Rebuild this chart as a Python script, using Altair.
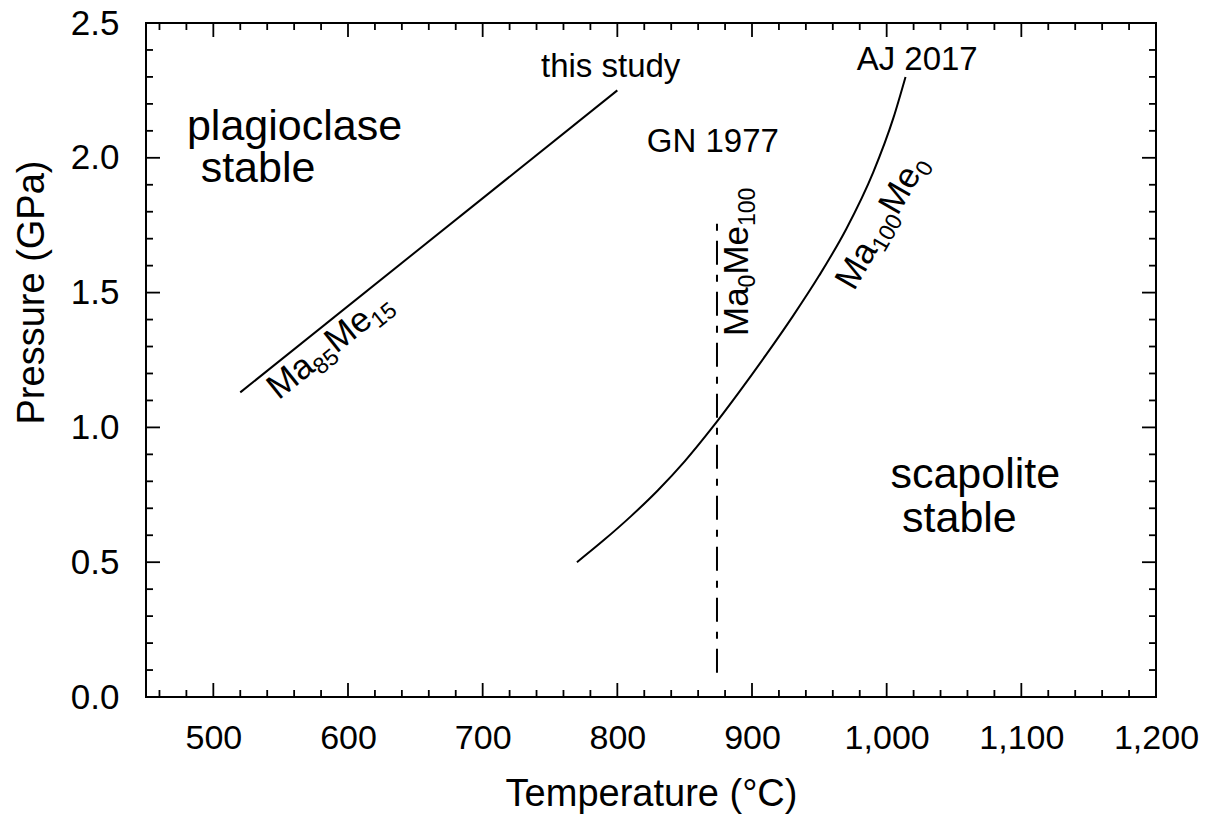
import altair as alt
import pandas as pd

FONT = "Liberation Sans"

# Plot area size in pixels
W, H = 1010, 674

# Reaction boundaries (temperature in °C, pressure in GPa)
study_T = [520, 800]
study_P = [1.13, 2.25]

aj_T = [770, 790, 810, 830, 850, 870, 890, 910, 930, 950, 970, 990, 1005, 1014]
aj_P = [0.50, 0.582, 0.670, 0.766, 0.874, 0.996, 1.128, 1.266, 1.410, 1.564, 1.736, 1.946, 2.148, 2.30]

gn_T = [874, 874]
gn_P = [0.09, 1.78]

# Axis ticks
x_labels = [500, 600, 700, 800, 900, 1000, 1100, 1200]
x_major = [500, 600, 700, 800, 900, 1000, 1100]
x_minor = [t for t in range(460, 1200, 20) if t % 100]
y_labels = [0.0, 0.5, 1.0, 1.5, 2.0, 2.5]
y_major = [0.5, 1.0, 1.5, 2.0]
y_minor = [i / 10 for i in range(1, 25) if i % 5]

# Plain annotations: text, T, P, font size
notes_text = ["plagioclase", "stable", "scapolite", "stable", "this study", "GN 1977", "AJ 2017"]
notes_T = [480.4, 490.6, 1002.8, 1011.4, 743.3, 821.9, 977.7]
notes_P = [2.066, 1.91, 0.774, 0.613, 2.301, 2.023, 2.326]
notes_size = [43, 43, 43, 43, 33, 33, 33]

# Composition labels with subscripts: pieces, anchor, rotation
comp_labels = [
    (["Ma", "85", "Me", "15"], 548.3, 1.10, 321.3),
    (["Ma", "100", "Me", "0"], 975.7, 1.503, 300),
    (["Ma", "0", "Me", "100"], 897.0, 1.339, 270),
]
BIG, SMALL = 35, 23
CHAR_W = {"M": 0.833, "a": 0.556, "e": 0.556}

xs = alt.Scale(domain=[450, 1200], nice=False, zero=False)
ys = alt.Scale(domain=[0, 2.5], nice=False, zero=True)

x_axis = alt.Axis(
    values=x_labels, format=",.0f", ticks=False, domain=False, grid=False,
    labelFontSize=34, labelPadding=24, labelFont=FONT, labelColor="black",
    labelFlush=False, labelOverlap=False,
    title="Temperature (°C)", titleFont=FONT, titleFontSize=38,
    titleFontWeight="normal", titleColor="black",
    titleY=108, titleBaseline="alphabetic",
)
y_axis = alt.Axis(
    values=y_labels, format=".1f", ticks=False, domain=False, grid=False,
    labelFontSize=35, labelPadding=27, labelFont=FONT, labelColor="black",
    labelFlush=False, labelOverlap=False,
    title="Pressure (GPa)", titleFont=FONT, titleFontSize=38,
    titleFontWeight="normal", titleColor="black",
    titleAngle=270, titleX=-103, titleY=269, titleAlign="center",
    titleBaseline="alphabetic",
)

X = alt.X("T:Q", scale=xs, axis=x_axis)
Y = alt.Y("P:Q", scale=ys, axis=y_axis)

study = pd.DataFrame({"T": study_T, "P": study_P})
aj = pd.DataFrame({"T": aj_T, "P": aj_P})
gn = pd.DataFrame({"T": gn_T, "P": gn_P})

study_line = alt.Chart(study).mark_line(color="black", strokeWidth=2).encode(x=X, y=Y)
aj_line = alt.Chart(aj).mark_line(color="black", strokeWidth=2, interpolate="monotone").encode(x=X, y=Y)
gn_line = alt.Chart(gn).mark_line(color="black", strokeWidth=2, strokeDash=[24, 10, 7, 10]).encode(x=X, y=Y)


def x_ticks(vals, length, top):
    y0, y1 = (0, length) if top else (H, H - length)
    return alt.Chart(pd.DataFrame({"T": vals})).mark_rule(color="black", strokeWidth=1.8).encode(
        x=X, y=alt.value(y0), y2=alt.value(y1)
    )


def y_ticks(vals, length, right):
    x0, x1 = (W, W - length) if right else (0, length)
    return alt.Chart(pd.DataFrame({"P": vals})).mark_rule(color="black", strokeWidth=1.8).encode(
        y=Y, x=alt.value(x0), x2=alt.value(x1)
    )


tick_layers = []
for top in (False, True):
    tick_layers.append(x_ticks(x_major, 14, top))
    tick_layers.append(x_ticks(x_minor, 7, top))
for right in (False, True):
    tick_layers.append(y_ticks(y_major, 14, right))
    tick_layers.append(y_ticks(y_minor, 7, right))

notes = pd.DataFrame({"label": notes_text, "T": notes_T, "P": notes_P, "size": notes_size})
note_layers = []
for size in sorted(set(notes_size)):
    sub = notes[notes["size"] == size]
    note_layers.append(
        alt.Chart(sub).mark_text(align="left", baseline="alphabetic", font=FONT,
                                 fontSize=size, color="black").encode(
            x=X, y=Y, text="label:N"
        )
    )


def piece_width(text, big):
    if big:
        return sum(CHAR_W[c] for c in text) * BIG
    return 0.556 * len(text) * SMALL


comp_layers = []
for pieces, T, P, ang in comp_labels:
    offset = 0.0
    for i, text in enumerate(pieces):
        big = i % 2 == 0
        comp_layers.append(
            alt.Chart(pd.DataFrame({"label": [text], "T": [T], "P": [P]})).mark_text(
                align="left", baseline="alphabetic", font=FONT,
                fontSize=BIG if big else SMALL, color="black",
                angle=ang, dx=offset, dy=0 if big else 7,
            ).encode(x=X, y=Y, text="label:N")
        )
        offset += piece_width(text, big)

chart = alt.layer(
    study_line, aj_line, gn_line, *tick_layers, *note_layers, *comp_layers
).properties(
    width=W, height=H,
    autosize=alt.AutoSizeParams(type="none"),
    padding={"left": 146, "top": 23, "right": 58, "bottom": 122},
    background="white",
).configure_view(stroke="black", strokeWidth=2)

chart.save("out.html", embed_options={"renderer": "svg", "actions": False})
